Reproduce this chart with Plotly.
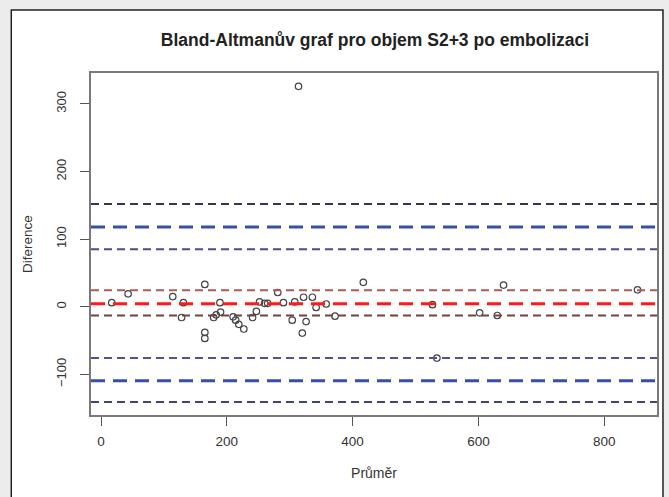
import plotly.graph_objects as go

# Data
prumer = [17, 43, 114, 131, 128, 165, 165, 165, 179, 183, 189, 190,
          210, 214, 219, 227, 241, 247, 252, 260, 265, 281, 290, 304,
          308, 322, 320, 326, 336, 342, 358, 372, 417, 527, 534, 602,
          630, 640, 853, 314]
diference = [6, 19, 15, 6, -16, 33, -38, -47, -16, -12, 6, -8,
             -15, -20, -26, -33, -16, -7, 7, 5, 5, 21, 6, -20,
             7, 14, -39, -22, 14, -1, 4, -14, 36, 3, -76, -9,
             -13, 32, 25, 326]

# Reference lines: bias and limits of agreement with confidence bounds
line_values = [152, 118, 85, 24.5, 4.5, -13, -76, -109.5, -141]
line_colors = ["#35355a", "#3450a8", "#4a4a8c", "#b05a5a", "#ff1a1a",
               "#6e4444", "#52529a", "#3450a8", "#424280"]
line_widths = [2, 3, 2, 2, 3, 2, 2, 3, 2]
line_dashes = ["8px,5px", "14px,8px", "8px,5px", "8px,5px", "14px,8px",
               "8px,5px", "8px,5px", "14px,8px", "8px,5px"]

x_ticks = [0, 200, 400, 600, 800]
y_ticks = [-100, 0, 100, 200, 300]

fig = go.Figure()

shapes = [dict(type="rect", xref="paper", yref="paper",
               x0=-80 / 568, x1=574 / 568, y0=-90 / 342, y1=(342 + 63) / 342,
               fillcolor="white", line=dict(color="#222222", width=1.5),
               layer="below")]
for v, c, w, d in zip(line_values, line_colors, line_widths, line_dashes):
    shapes.append(dict(type="line", xref="paper", yref="y", x0=0, x1=1,
                       y0=v, y1=v, line=dict(color=c, width=w, dash=d)))

fig.add_trace(go.Scatter(
    x=prumer, y=diference, mode="markers",
    marker=dict(symbol="circle-open", size=6.5, color="#444444",
                line=dict(width=1.2, color="#444444")),
    showlegend=False, hoverinfo="skip"))

fig.update_layout(
    width=669, height=497,
    margin=dict(l=91, r=10, t=73, b=82),
    paper_bgcolor="#ececec", plot_bgcolor="white",
    font=dict(family="Liberation Sans, Arial, sans-serif", color="#333333", size=13),
    title=dict(text="<b>Bland-Altmanův graf pro objem S2+3 po embolizaci</b>",
               x=(91 + 568 / 2) / 669, xanchor="center", y=1 - 40 / 497,
               yanchor="middle", font=dict(size=17.5, color="#222222")),
    shapes=shapes,
    xaxis=dict(range=[-16, 884], tickvals=x_ticks, showgrid=False, zeroline=False,
               showline=True, mirror=True, linecolor="#7a7a7a", linewidth=1.5,
               ticks="outside", ticklen=9, tickcolor="#555555",
               ticklabelstandoff=4,
               tickfont=dict(size=13.5, color="#333333"),
               title=dict(text="Průměr", font=dict(size=14, color="#333333"),
                          standoff=20)),
    yaxis=dict(range=[-160.2, 345.7], tickvals=y_ticks, showgrid=False, zeroline=False,
               showline=True, mirror=True, linecolor="#7a7a7a", linewidth=1.5,
               ticks="outside", ticklen=9, tickcolor="#555555", tickangle=-90,
               ticklabelstandoff=9,
               tickfont=dict(size=13, color="#333333"),
               title=dict(text="Diference", font=dict(size=13.5, color="#333333"),
                          standoff=18)),
)

fig.write_html("out.html",
               config={"displayModeBar": False},
               post_script="document.documentElement.style.overflow='hidden';"
                           "document.body.style.margin='0';"
                           "document.body.style.overflow='hidden';"
                           "document.body.style.background='#ececec';")
